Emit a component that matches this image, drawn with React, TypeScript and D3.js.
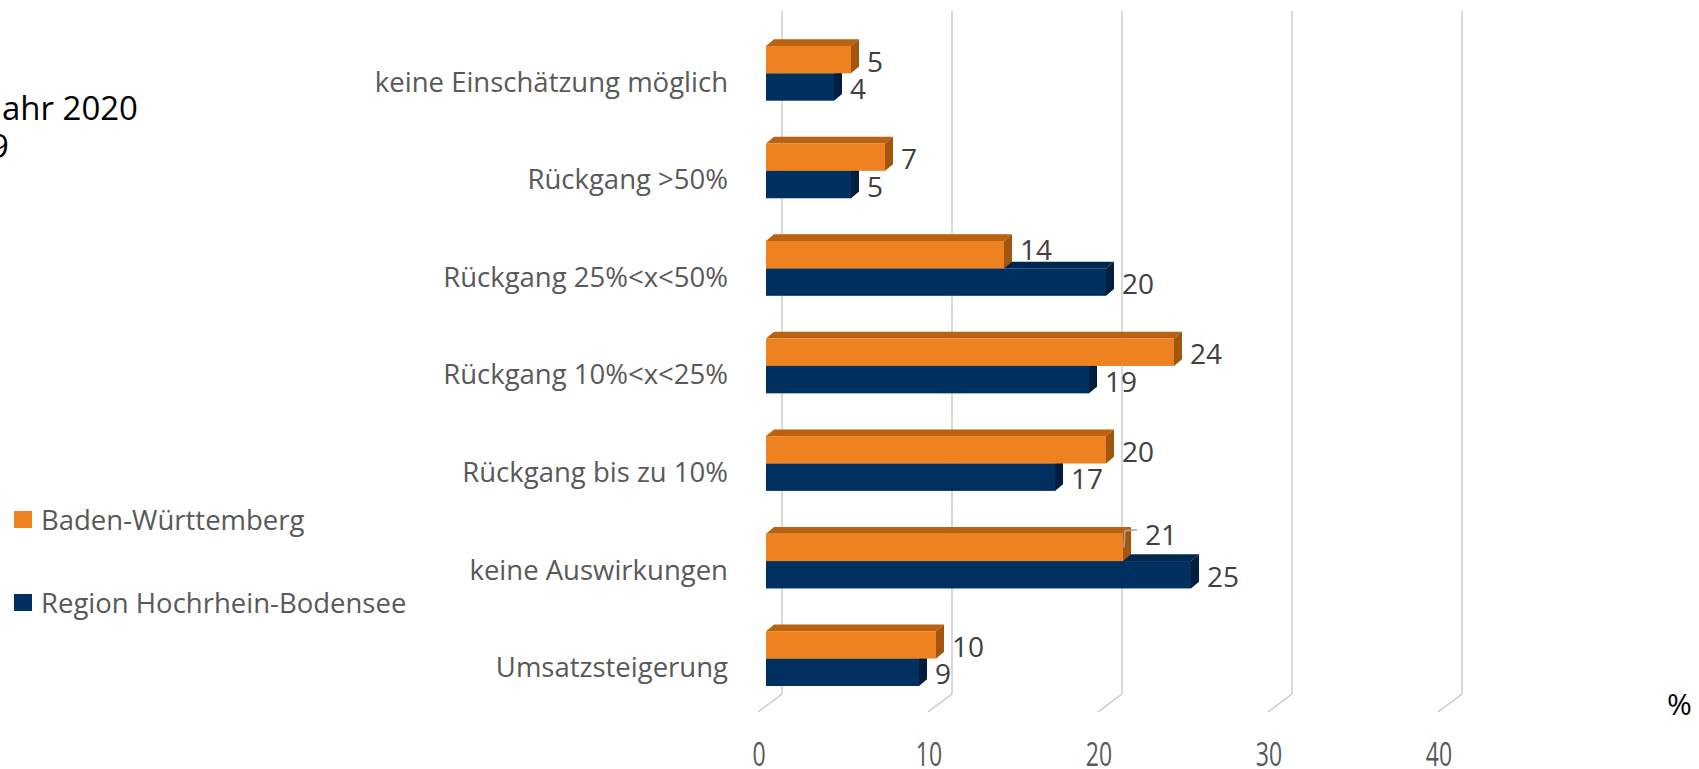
import React from 'react';
import * as d3 from 'd3';

// categories from top to bottom
const categories = [
    'keine Einschätzung möglich',
    'Rückgang >50%',
    'Rückgang 25%<x<50%',
    'Rückgang 10%<x<25%',
    'Rückgang bis zu 10%',
    'keine Auswirkungen',
    'Umsatzsteigerung',
];
const bwValues = [5, 7, 14, 24, 20, 21, 10];
const regionValues = [4, 5, 20, 19, 17, 25, 9];
const xTicks = [0, 10, 20, 30, 40];
const seriesNames = ['Baden-Württemberg', 'Region Hochrhein-Bodensee'];
const titleLines = ['Umsatzentwicklung im Jahr 2020', 'im Vergleich zu 2019'];
const leaderCategory = 'keine Auswirkungen';

const W = 1699;
const H = 769;
const FONT = "'Open Sans', 'Noto Sans', sans-serif";

const orange = { front: '#EF8220', top: '#B9620F', side: '#A2550C' };
const navy = { front: '#003060', top: '#00284F', side: '#001E3E' };

// 3d offsets
const barDx = 8, barDy = 6.7;
const wallDx = 16;
const floorDx = 24, floorDy = 18;

const Bar3D = ({ x0, x1, y, h, c }) => {
    return (
        <g>
            <polygon
                points={`${x0},${y} ${x0 + barDx},${y - barDy} ${x1 + barDx},${y - barDy} ${x1},${y}`}
                fill={c.top}
            />
            <polygon
                points={`${x1},${y} ${x1 + barDx},${y - barDy} ${x1 + barDx},${y + h - barDy} ${x1},${y + h}`}
                fill={c.side}
            />
            <rect x={x0} y={y} width={x1 - x0} height={h} fill={c.front} />
        </g>
    );
};

const App = () => {
    let x = d3.scaleLinear().domain([0, 40]).range([766, 1446]);
    // y = boundary between orange and navy bar of each category
    let y = d3.scalePoint().domain(categories).range([73.3, 658.6]);
    const barH = 27.4;
    const gridTop = 11;
    const gridBottom = 694;

    return (
        <svg width={W} height={H} style={{ position: 'absolute', left: 0, top: 0, background: '#fff' }}>
            {/* title, cut off on the left */}
            <text x={138} y={107} textAnchor="end" dominantBaseline="central"
                fontFamily={FONT} fontSize={33} fill="#000">{titleLines[0]}</text>
            <text x={9} y={145} textAnchor="end" dominantBaseline="central"
                fontFamily={FONT} fontSize={33} fill="#000">{titleLines[1]}</text>

            {/* back wall gridlines + floor diagonals */}
            {xTicks.map((t) => (
                <g key={t}>
                    <line x1={x(t) + wallDx} x2={x(t) + wallDx} y1={gridTop} y2={gridBottom}
                        stroke="#C4C4C4" strokeWidth={1.3} />
                    <line x1={x(t) + wallDx} y1={gridBottom} x2={x(t) + wallDx - floorDx} y2={gridBottom + floorDy}
                        stroke="#C4C4C4" strokeWidth={1.3} />
                    <text x={0} y={0} textAnchor="middle" dominantBaseline="central"
                        fontFamily={FONT} fontSize={32} fill="#595959"
                        transform={`translate(${x(t) - 7},753) scale(0.72,1)`}>
                        {t}
                    </text>
                </g>
            ))}

            {/* bars */}
            {categories.map((c, i) => {
                const yb = y(c);
                const bw = bwValues[i];
                const rg = regionValues[i];
                const lead = c === leaderCategory;
                // orange label is lifted when the navy bar sticks out below it
                const bwLabelY = lead ? yb - barH : yb - barH / 2 + 1 - (rg > bw ? 7 : 0);
                return (
                    <g key={c}>
                        <Bar3D x0={x(0)} x1={x(rg)} y={yb} h={barH} c={navy} />
                        <Bar3D x0={x(0)} x1={x(bw)} y={yb - barH} h={barH} c={orange} />
                        {lead && (
                            <polyline
                                points={`${x(bw) + 1},${yb - barH + 14} ${x(bw) + 2},${yb - barH - 3} ${x(bw) + 14},${yb - barH - 4}`}
                                fill="none" stroke="#A6A6A6" strokeWidth={1.5} />
                        )}
                        <text x={x(bw) + (lead ? 22 : 16)} y={bwLabelY}
                            dominantBaseline="central"
                            fontFamily={FONT} fontSize={28} fill="#404040">{bw}</text>
                        <text x={x(rg) + 16} y={yb + barH / 2 + 1} dominantBaseline="central"
                            fontFamily={FONT} fontSize={28} fill="#404040">{rg}</text>
                        <text x={728} y={yb + 8} textAnchor="end" dominantBaseline="central"
                            fontFamily={FONT} fontSize={27.5} fill="#595959">{c}</text>
                    </g>
                );
            })}

            {/* legend */}
            {seriesNames.map((s, i) => (
                <g key={s} transform={`translate(14, ${i === 0 ? 511 : 594})`}>
                    <rect width={18} height={17} fill={i === 0 ? orange.front : navy.front} />
                    <text x={27} y={8} dominantBaseline="central" fontFamily={FONT} fontSize={27.5}
                        fill="#595959">{s}</text>
                </g>
            ))}

            <text x={1667} y={703} dominantBaseline="central" fontFamily={FONT} fontSize={30}
                fill="#000">%</text>
        </svg>
    );
};

export default App;
